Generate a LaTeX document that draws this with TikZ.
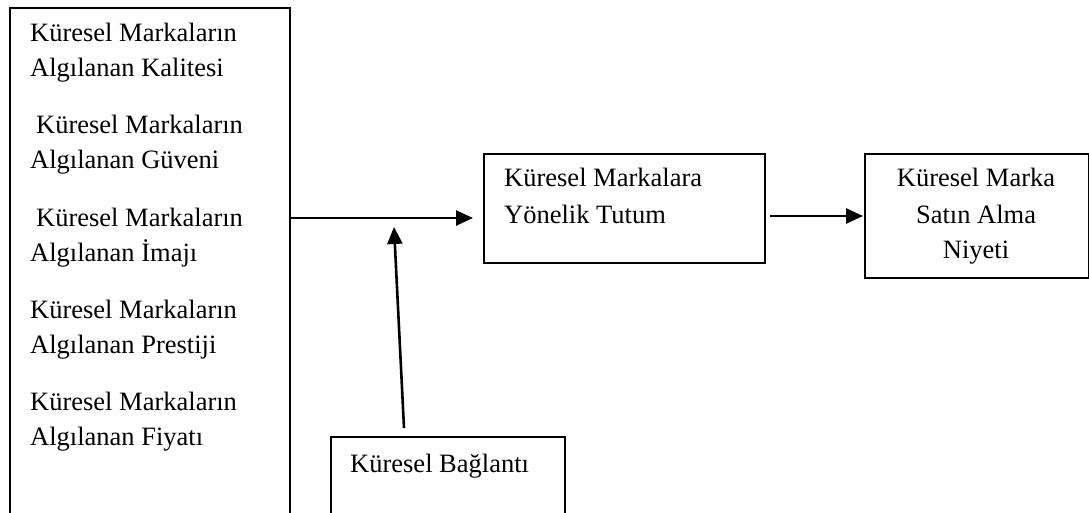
\documentclass[tikz,border=0pt]{standalone}
\usepackage{fontspec}
\setmainfont{Liberation Serif}
\usetikzlibrary{arrows.meta}
\begin{document}
\begin{tikzpicture}[x=1pt,y=-1pt,
  boxstyle/.style={draw=black, line width=2pt, rectangle, inner sep=0pt, anchor=north west},
  txt/.style={inner sep=0pt, font=\fontsize{26.5}{35}\selectfont},
  arr/.style={line width=2.6pt, -{Triangle[length=17pt,width=15pt]}}]
\useasboundingbox (0,0) rectangle (1089,513);
\clip (0,0) rectangle (1089,513);
% boxes
\node[boxstyle, minimum width=280pt, minimum height=540pt] (left) at (9,7) {};
\node[boxstyle, minimum width=281pt, minimum height=109pt] (mid) at (483,153) {};
\node[boxstyle, minimum width=224pt, minimum height=124pt] (right) at (864,153) {};
\node[boxstyle, minimum width=234pt, minimum height=120pt] (bot) at (330,436) {};
% left texts
\node[txt, anchor=base west] (l1a) at (30,42) {Küresel Markaların};
\node[txt, anchor=base west] (l1b) at (30,77) {Algılanan Kalitesi};
\node[txt, anchor=base west] (l2a) at (36,134) {Küresel Markaların};
\node[txt, anchor=base west] (l2b) at (30,169) {Algılanan Güveni};
\node[txt, anchor=base west] (l3a) at (36,226) {Küresel Markaların};
\node[txt, anchor=base west] (l3b) at (30,261) {Algılanan İmajı};
\node[txt, anchor=base west] (l4a) at (30,318) {Küresel Markaların};
\node[txt, anchor=base west] (l4b) at (30,353) {Algılanan Prestiji};
\node[txt, anchor=base west] (l5a) at (30,410) {Küresel Markaların};
\node[txt, anchor=base west] (l5b) at (30,445) {Algılanan Fiyatı};
% middle text
\node[txt, anchor=base west] (m1) at (504,187) {Küresel Markalara};
\node[txt, anchor=base west] (m2) at (504,223) {Yönelik Tutum};
% right text
\node[txt, anchor=base] (r1) at (976,187) {Küresel Marka};
\node[txt, anchor=base] (r2) at (976,223) {Satın Alma};
\node[txt, anchor=base] (r3) at (976,258) {Niyeti};
% bottom text
\node[txt, anchor=base west] (b1) at (350,472) {Küresel Bağlantı};
% arrows
\draw[arr] ([yshift=-9.5pt]mid.west -| left.east) -- ([xshift=-10pt,yshift=-9.5pt]mid.west);
\draw[arr] ([xshift=4pt]mid.east |- right.west) -- ([xshift=-1pt]right.west);
\draw[arr] ([xshift=-44pt,yshift=8pt]bot.north) -- ([xshift=-54pt,yshift=209pt]bot.north);
\end{tikzpicture}
\end{document}
